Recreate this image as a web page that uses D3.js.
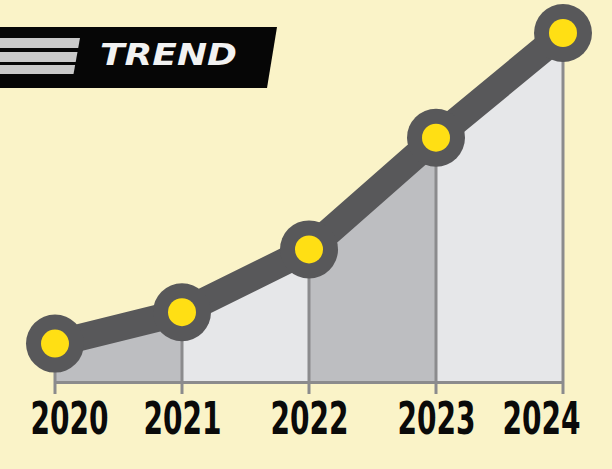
<!DOCTYPE html>
<html><head><meta charset="utf-8">
<script src="https://cdn.jsdelivr.net/npm/d3@7"></script>
<style>body{margin:0;background:#faf3c8;}svg{display:block;}</style>
</head><body>
<script>
const years = ["2020","2021","2022","2023","2024"];
const values = [11, 20, 38, 70, 100];
const title = "TREND";

const W = 612, H = 469;
const svg = d3.select("body").append("svg").attr("width", W).attr("height", H);
svg.append("rect").attr("width", W).attr("height", H).attr("fill", "#faf3c8");

const x = d3.scalePoint().domain(years).range([55, 563]);
const y = d3.scaleLinear().domain([0, 100]).range([382, 33]);

const data = years.map((yr, i) => ({yr, v: values[i]}));

// alternating area segments
for (let i = 0; i < data.length - 1; i++) {
  const seg = [data[i], data[i+1]];
  const area = d3.area().x(d => x(d.yr)).y0(y(0)).y1(d => y(d.v));
  svg.append("path").attr("d", area(seg))
    .attr("fill", i % 2 === 0 ? "#bdbec1" : "#e6e7e9");
}

// vertical lines and ticks
svg.selectAll("line.v").data(data).enter().append("line")
  .attr("x1", d => x(d.yr)).attr("x2", d => x(d.yr))
  .attr("y1", d => y(d.v)).attr("y2", 394)
  .attr("stroke", "#8b8b8d").attr("stroke-width", 3);

// axis baseline
const axis = d3.axisBottom(x).tickSize(0).tickPadding(21);
const gx = svg.append("g").attr("transform", `translate(0,${y(0)})`).call(axis);
gx.select(".domain").attr("stroke", "#8b8b8d").attr("stroke-width", 3);
const labelW = 78;
gx.selectAll(".tick text")
  .attr("font-family", "'Liberation Sans Narrow','DejaVu Sans Condensed',sans-serif")
  .attr("font-weight", "bold").attr("font-size", 44).attr("fill", "#0a0a0a")
  .attr("dy", "0.71em")
  .attr("textLength", labelW).attr("lengthAdjust", "spacingAndGlyphs")
  .attr("x", d => {
    const c = Math.min(Math.max(x(d), 30 + labelW / 2), 580 - labelW / 2);
    return c - x(d);
  });

// line
const line = d3.line().x(d => x(d.yr)).y(d => y(d.v));
svg.append("path").attr("d", line(data)).attr("fill", "none")
  .attr("stroke", "#58585a").attr("stroke-width", 27);

svg.selectAll("circle.o").data(data).enter().append("circle")
  .attr("cx", d => x(d.yr)).attr("cy", d => y(d.v)).attr("r", 29).attr("fill", "#58585a");
svg.selectAll("circle.i").data(data).enter().append("circle")
  .attr("cx", d => x(d.yr)).attr("cy", d => y(d.v)).attr("r", 14).attr("fill", "#ffdf14");

// banner
const banner = svg.append("g");
banner.append("path").attr("d", "M0,27 L277,27 L267,88 L0,88 Z").attr("fill", "#060606");
const stripes = [[38,48],[52,62],[65,74]];
stripes.forEach(([a,b]) => {
  const xa = 80 - (a - 38) * 0.18, xb = 80 - (b - 38) * 0.18;
  banner.append("path").attr("d", `M0,${a} L${xa},${a} L${xb},${b} L0,${b} Z`).attr("fill", "#c9c9c9");
});
banner.append("text").attr("x", 100).attr("y", 65)
  .attr("font-family", "'DejaVu Sans','Liberation Sans',sans-serif")
  .attr("font-weight", "bold").attr("font-style", "italic").attr("font-size", 31)
  .attr("fill", "#f2f2f2")
  .attr("textLength", 137).attr("lengthAdjust", "spacingAndGlyphs")
  .text(title);
</script>
</body></html>
